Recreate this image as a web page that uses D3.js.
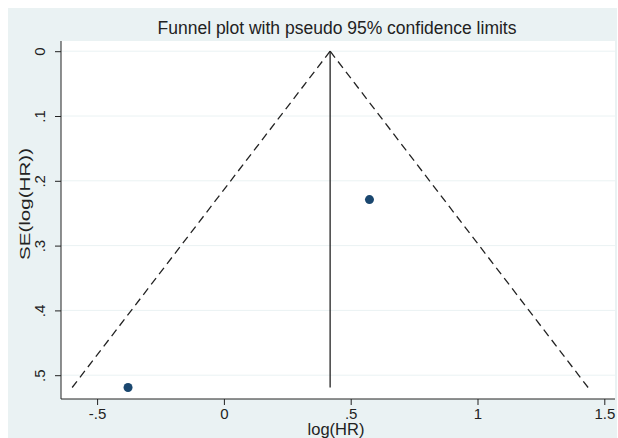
<!DOCTYPE html>
<html><head><meta charset="utf-8">
<script src="https://cdn.jsdelivr.net/npm/d3@7"></script>
<style>body{margin:0;background:#fff}svg{display:block}</style>
</head><body>
<svg id="c" width="618" height="438"></svg>
<script>
const title = "Funnel plot with pseudo 95% confidence limits";
const xLabel = "log(HR)";
const yLabel = "SE(log(HR))";
const logHR = [0.574, -0.378];
const seLogHR = [0.229, 0.519];
const xTicks = [-0.5, 0, 0.5, 1, 1.5];
const xTickLabels = ["-.5", "0", ".5", "1", "1.5"];
const yTicks = [0, 0.1, 0.2, 0.3, 0.4, 0.5];
const yTickLabels = ["0", ".1", ".2", ".3", ".4", ".5"];

const svg = d3.select("#c");
const font = "'Liberation Sans', Arial, sans-serif";
const ink = "#222";

svg.append("rect").attr("x", 8).attr("y", 8).attr("width", 609).attr("height", 430).attr("fill", "#eaf2f3");
const pl = 61, pr = 615, pt = 41, pb = 399;
svg.append("rect").attr("x", pl).attr("y", pt).attr("width", pr - pl).attr("height", pb - pt).attr("fill", "#fff");

const x = d3.scaleLinear().domain([0, 1.5]).range([223.9, 604.3]);
const y = d3.scaleLinear().domain([0, 0.5]).range([51.2, 375.2]);

// gridlines
svg.append("g").selectAll("line").data(yTicks).join("line")
  .attr("x1", pl).attr("x2", pr).attr("y1", d => y(d)).attr("y2", d => y(d))
  .attr("stroke", "#eaf2f3").attr("stroke-width", 1);

// pooled estimate (fixed-effect)
const w = seLogHR.map(s => 1 / (s * s));
const pooled = d3.sum(logHR.map((v, i) => v * w[i])) / d3.sum(w);
const seMax = d3.max(seLogHR);

svg.append("line").attr("x1", x(pooled)).attr("x2", x(pooled)).attr("y1", y(0)).attr("y2", y(seMax))
  .attr("stroke", ink).attr("stroke-width", 1.3);
[-1, 1].forEach(sgn => {
  svg.append("line").attr("x1", x(pooled)).attr("y1", y(0))
    .attr("x2", x(pooled + sgn * 1.96 * seMax)).attr("y2", y(seMax))
    .attr("stroke", ink).attr("stroke-width", 1.3).attr("stroke-dasharray", "8,5");
});

// points
svg.append("g").selectAll("circle").data(logHR).join("circle")
  .attr("cx", d => x(d)).attr("cy", (d, i) => y(seLogHR[i])).attr("r", 4.5).attr("fill", "#1a476f");

// axes
const xAxis = d3.axisBottom(x).tickValues(xTicks).tickFormat((d, i) => xTickLabels[i]).tickSize(6).tickPadding(3);
const gx = svg.append("g").attr("transform", `translate(0,${pb})`).call(xAxis);
gx.select(".domain").attr("d", `M${pl},0H${pr}`).attr("stroke", ink);
gx.selectAll(".tick line").attr("stroke", ink);
gx.selectAll(".tick text").attr("font-family", font).attr("font-size", 15).attr("fill", ink);

const yAxis = d3.axisLeft(y).tickValues(yTicks).tickFormat((d, i) => yTickLabels[i]).tickSize(6);
const gy = svg.append("g").attr("transform", `translate(${pl},0)`).call(yAxis);
gy.select(".domain").attr("d", `M0,${pt}V${pb}`).attr("stroke", ink);
gy.selectAll(".tick line").attr("stroke", ink);
gy.selectAll(".tick text").attr("font-family", font).attr("font-size", 15).attr("fill", ink)
  .attr("x", -20).attr("dy", 0).attr("text-anchor", "middle").attr("transform", "rotate(-90,-20,0)")
  .attr("dominant-baseline", "middle");

svg.append("text").attr("x", 337).attr("y", 34).attr("text-anchor", "middle")
  .attr("font-family", font).attr("font-size", 17.5).attr("fill", ink).text(title);
svg.append("text").attr("x", 336).attr("y", 435).attr("text-anchor", "middle")
  .attr("font-family", font).attr("font-size", 16.5).attr("fill", ink).text(xLabel);
svg.append("text").attr("transform", "translate(30,204) rotate(-90)").attr("text-anchor", "middle")
  .attr("font-family", font).attr("font-size", 15).attr("fill", ink)
  .attr("textLength", 112).attr("lengthAdjust", "spacingAndGlyphs").text(yLabel);
</script>
</body></html>
